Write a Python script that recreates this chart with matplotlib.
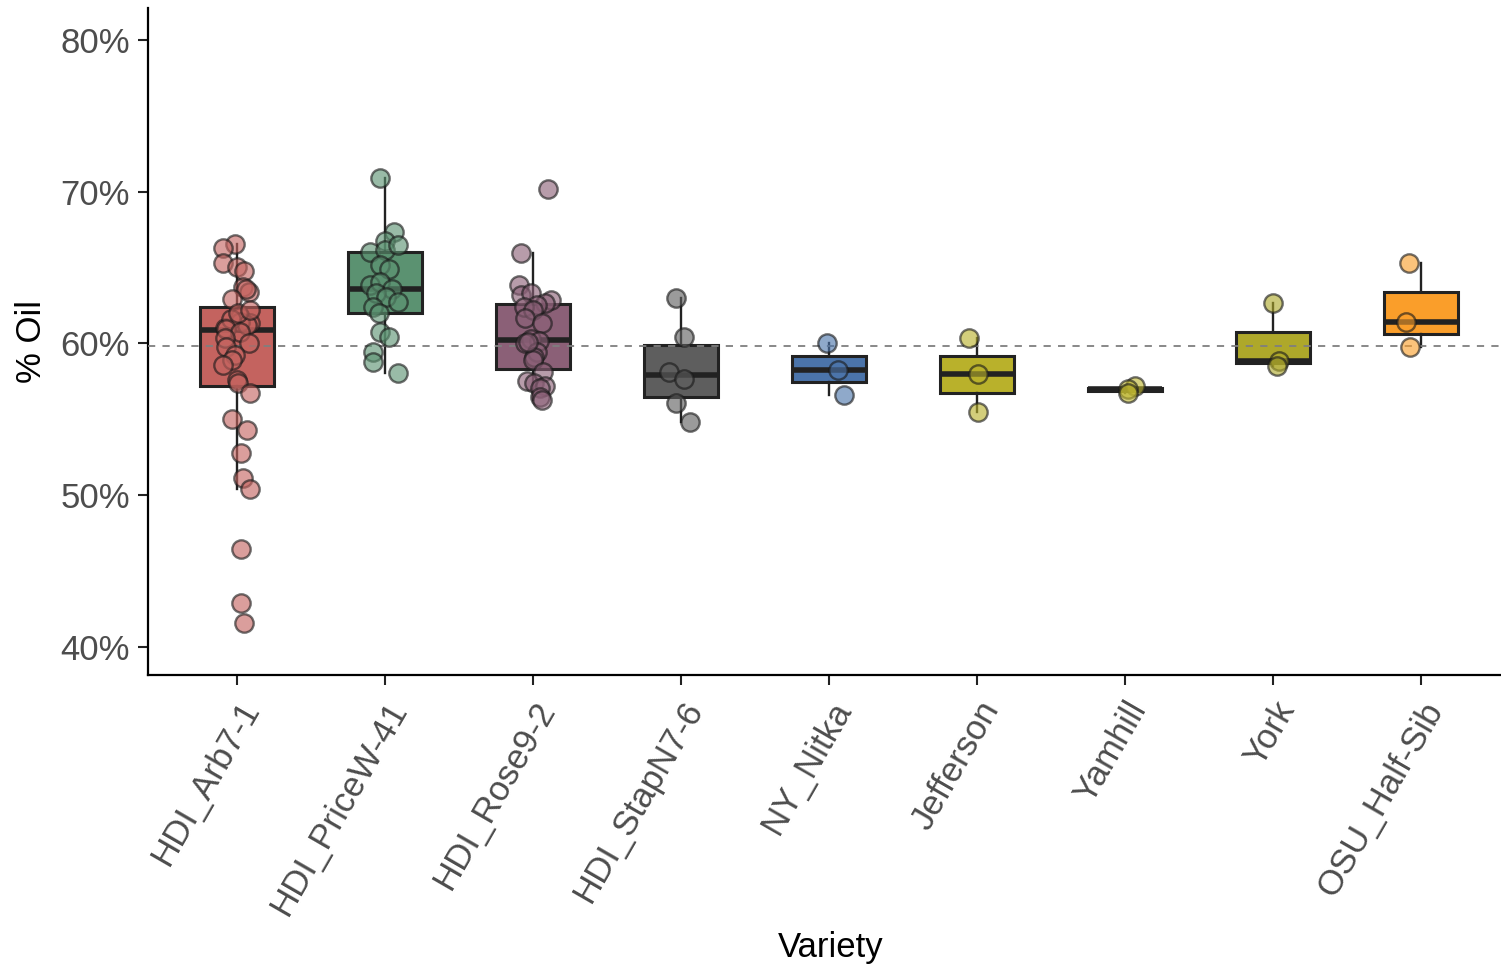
import numpy as np
import matplotlib.pyplot as plt

plt.rcParams['font.family'] = ['Liberation Sans', 'DejaVu Sans']

varieties = ["HDI_Arb7-1", "HDI_PriceW-41", "HDI_Rose9-2", "HDI_StapN7-6",
             "NY_Nitka", "Jefferson", "Yamhill", "York", "OSU_Half-Sib"]

# % oil per nut sample, grouped by variety
arb = [66.56, 66.27, 65.33, 65.02, 64.80, 63.70, 63.39, 63.6, 62.95, 61.77,
       61.33, 61.44, 61.0, 61.2, 61.6, 62.0, 62.2, 60.94, 60.78, 60.34, 60.01,
       59.79, 59.24, 58.91, 58.58, 57.59, 57.37, 56.72, 55.0, 54.30, 52.76,
       51.12, 50.40, 46.46, 42.92, 41.60]
price = [70.88, 67.37, 66.75, 66.05, 66.16, 66.5, 65.17, 64.91, 63.85, 64.07,
         63.6, 63.3, 63.08, 62.76, 62.39, 62.0, 60.78, 60.39, 59.46, 58.80, 58.08]
rose = [70.18, 65.98, 63.85, 63.20, 63.31, 62.87, 62.65, 62.5, 62.4, 62.21,
        61.66, 61.33, 60.3, 60.15, 60.01, 59.46, 59.13, 58.91, 58.1, 57.49,
        57.38, 57.2, 57.05, 56.5, 56.28, 60.1]
stap = [62.98, 60.45, 58.14, 57.64, 56.06, 54.85]
nitka = [60.05, 58.25, 56.61]
jefferson = [60.34, 57.99, 55.51]
yamhill = [57.16, 56.98, 56.72]
york = [62.69, 58.85, 58.52]
osu = [65.33, 61.44, 59.79]
groups = [arb, price, rose, stap, nitka, jefferson, yamhill, york, osu]

# horizontal jitter of each point (fraction of category spacing)
jitter = [
    [-0.01, -0.09, -0.09, 0.0, 0.05, 0.04, 0.08, 0.06, -0.03, 0.02,
     0.09, 0.02, -0.08, 0.07, -0.04, 0.01, 0.09, -0.07, 0.02, -0.08, 0.08,
     -0.07, -0.01, -0.03, -0.09, 0.0, 0.01, 0.09, -0.03, 0.07, 0.03,
     0.04, 0.09, 0.03, 0.03, 0.05],
    [-0.03, 0.06, 0.0, -0.10, 0.0, 0.09, -0.03, 0.03, -0.10, -0.03,
     0.05, -0.06, 0.01, 0.09, -0.08, -0.04, -0.03, 0.03, -0.08, -0.08, 0.09],
    [0.1, -0.08, -0.09, -0.08, -0.01, 0.12, 0.08, 0.03, -0.06, 0.0,
     -0.05, 0.06, -0.01, 0.04, -0.05, 0.03, 0.01, 0.0, 0.07, -0.04,
     0.01, 0.08, 0.05, 0.05, 0.06, -0.03],
    [-0.03, 0.02, -0.08, 0.02, -0.03, 0.06],
    [-0.01, 0.06, 0.10],
    [-0.05, 0.01, 0.01],
    [0.07, 0.02, 0.02],
    [0.0, 0.04, 0.03],
    [-0.08, -0.10, -0.07],
]

colors = ["#C4635F", "#5B9271", "#8B6077", "#5E5E5E", "#4B74AA",
          "#B9B12B", "#BDB52F", "#AEA82A", "#FA9E2A"]

overall_mean = 59.8

fig = plt.figure(figsize=(15.01, 9.67), dpi=100)
ax = fig.add_axes([0.0986, 0.302, 0.9007, 0.6897])

pos = np.arange(len(varieties))
bp = ax.boxplot(groups, positions=pos, widths=0.5, patch_artist=True,
                showfliers=False, showcaps=False, whis=1.5,
                boxprops=dict(edgecolor="#222222", linewidth=2.2),
                medianprops=dict(color="#222222", linewidth=4.0),
                whiskerprops=dict(color="#222222", linewidth=1.7),
                zorder=2)
for patch, c in zip(bp['boxes'], colors):
    patch.set_facecolor(c)

ax.axhline(overall_mean, color="#7F7F7F", linestyle=(0, (4, 4)),
           linewidth=1.3, zorder=3)

for i, (vals, jit, c) in enumerate(zip(groups, jitter, colors)):
    xs = i + np.array(jit)
    ax.scatter(xs, vals, s=175, color=c, alpha=0.62, edgecolors="#1A1A1A",
               linewidths=1.7, zorder=4)

ax.set_xlim(-0.6, 8.535)
ax.set_ylim(38.15, 82.1)
ax.set_yticks([40, 50, 60, 70, 80])
ax.set_yticklabels([f"{v}%" for v in [40, 50, 60, 70, 80]])
ax.set_xticks(pos)
ax.set_xticklabels(varieties, rotation=60, ha="right", va="top",
                   rotation_mode="anchor")

ax.tick_params(axis="both", labelsize=25, labelcolor="#4D4D4D",
               length=7, width=1.5, color="#222222")
ax.tick_params(axis="x", pad=8)
ax.tick_params(axis="y", pad=6)
for side in ["top", "right"]:
    ax.spines[side].set_visible(False)
for side in ["left", "bottom"]:
    ax.spines[side].set_linewidth(1.6)

ax.set_xlabel("Variety", fontsize=25, va="center")
ax.set_ylabel("% Oil", fontsize=25, va="center")
ax.xaxis.set_label_coords(0.505, -0.408)
ax.yaxis.set_label_coords(-0.086, 0.5)

fig.savefig("out.png", dpi=100)
